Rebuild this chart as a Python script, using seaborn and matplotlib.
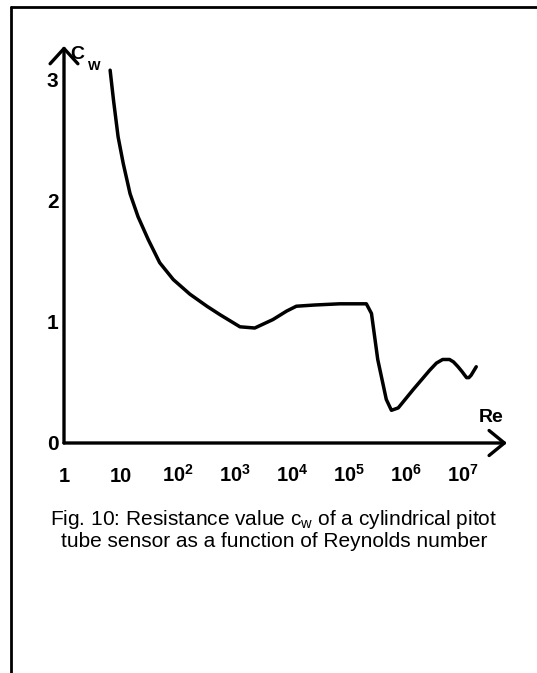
import numpy as np
import pandas as pd
import seaborn as sns
import matplotlib.pyplot as plt
from matplotlib.lines import Line2D
from matplotlib.ticker import NullLocator

# values (Re as decade exponent, c_w)
log_re = [0.81, 0.87, 0.95, 1.04, 1.16, 1.30, 1.48, 1.68, 1.92, 2.21, 2.51, 2.74, 3.09, 3.35,
          3.67, 3.91, 4.08, 4.40, 4.84, 5.31, 5.40, 5.51, 5.66, 5.75, 5.87, 6.13, 6.42, 6.54,
          6.65, 6.77, 6.84, 6.92, 6.99, 7.07, 7.11, 7.15, 7.24]
cw = [3.08, 2.83, 2.53, 2.31, 2.06, 1.87, 1.68, 1.49, 1.35, 1.23, 1.13, 1.06, 0.96, 0.95,
      1.02, 1.09, 1.13, 1.14, 1.15, 1.15, 1.07, 0.69, 0.36, 0.27, 0.29, 0.44, 0.60, 0.66,
      0.69, 0.69, 0.67, 0.63, 0.59, 0.54, 0.54, 0.56, 0.63]

x_exps = [0, 1, 2, 3, 4, 5, 6, 7]
x_labels = ['1', '10', r'$\mathbf{10^{2}}$', r'$\mathbf{10^{3}}$', r'$\mathbf{10^{4}}$',
            r'$\mathbf{10^{5}}$', r'$\mathbf{10^{6}}$', r'$\mathbf{10^{7}}$']
y_major = [0, 1, 2, 3]
y_minor = [0.5, 1.5, 2.5]

caption = ('Fig. 10: Resistance value c$_\\mathrm{w}$ of a cylindrical pitot\n'
           'tube sensor as a function of Reynolds number')

sns.set_style('white')
plt.rcParams['font.family'] = ['Liberation Sans', 'DejaVu Sans']
plt.rcParams['mathtext.fontset'] = 'custom'
plt.rcParams['mathtext.rm'] = 'Liberation Sans'
plt.rcParams['mathtext.bf'] = 'Liberation Sans:bold'
plt.rcParams['mathtext.it'] = 'Liberation Sans:italic'
for k in ['text.color', 'axes.labelcolor', 'xtick.color', 'ytick.color']:
    plt.rcParams[k] = 'black'

df = pd.DataFrame({'Re': [10 ** v for v in log_re], 'cw': cw})

fig = plt.figure(figsize=(5.37, 6.73), dpi=100)
ax = fig.add_axes([64 / 537, 1 - 443 / 673, 443 / 537, 397 / 673])
ax.set_xscale('log')

sns.lineplot(data=df, x='Re', y='cw', ax=ax, color='k', lw=2.5, estimator=None, sort=False)
ax.lines[0].set_solid_joinstyle('round')
ax.lines[0].set_solid_capstyle('round')

ax.set_xlim(1, 10 ** 7.78)
ax.set_ylim(0, 3.28)
for s in ax.spines.values():
    s.set_visible(False)

# axes drawn as arrows
ax.annotate('', xy=(1, 0), xytext=(0, 0), xycoords='axes fraction',
            arrowprops=dict(arrowstyle='->,head_length=0.55,head_width=0.45', lw=2.4,
                            color='k', mutation_scale=20, shrinkA=0, shrinkB=0))
ax.annotate('', xy=(0, 1), xytext=(0, 0), xycoords='axes fraction',
            arrowprops=dict(arrowstyle='->,head_length=0.55,head_width=0.5', lw=2.4,
                            color='k', mutation_scale=20, shrinkA=0, shrinkB=0))

ax.set_xticks([10 ** e for e in x_exps])
ax.set_xticklabels(x_labels)
ax.xaxis.set_minor_locator(NullLocator())
ax.tick_params(axis='x', direction='in', length=4, width=2, pad=28, labelsize=14.5)
for t in ax.get_xticklabels():
    t.set_fontweight('bold')
    t.set_va('baseline')

ax.set_yticks(y_major)
ax.set_yticks(y_minor, minor=True)
ax.tick_params(axis='y', which='both', direction='in', length=5, width=2, pad=4, labelsize=15)
for t in ax.get_yticklabels():
    t.set_fontweight('bold')
ax.set_xlabel('')
ax.set_ylabel('')

ax.text(0.015, 1.0, 'C', transform=ax.transAxes, fontsize=14, fontweight='bold', va='top', ha='left')
ax.text(0.054, 0.963, 'W', transform=ax.transAxes, fontsize=9.5, fontweight='bold', va='top', ha='left')
ax.text(0.965, 0.063, 'Re', transform=ax.transAxes, fontsize=14, fontweight='bold', va='center', ha='center')

fig.text(274 / 537, 1 - 547 / 673, caption, ha='center', va='baseline', fontsize=15,
         linespacing=1.04, multialignment='center')

# frame of the original page
fig.add_artist(Line2D([11 / 537, 11 / 537], [0, 1 - 7 / 673], color='k', lw=2))
fig.add_artist(Line2D([11 / 537, 1], [1 - 7 / 673, 1 - 7 / 673], color='k', lw=2))

fig.savefig('out.png', dpi=100)
